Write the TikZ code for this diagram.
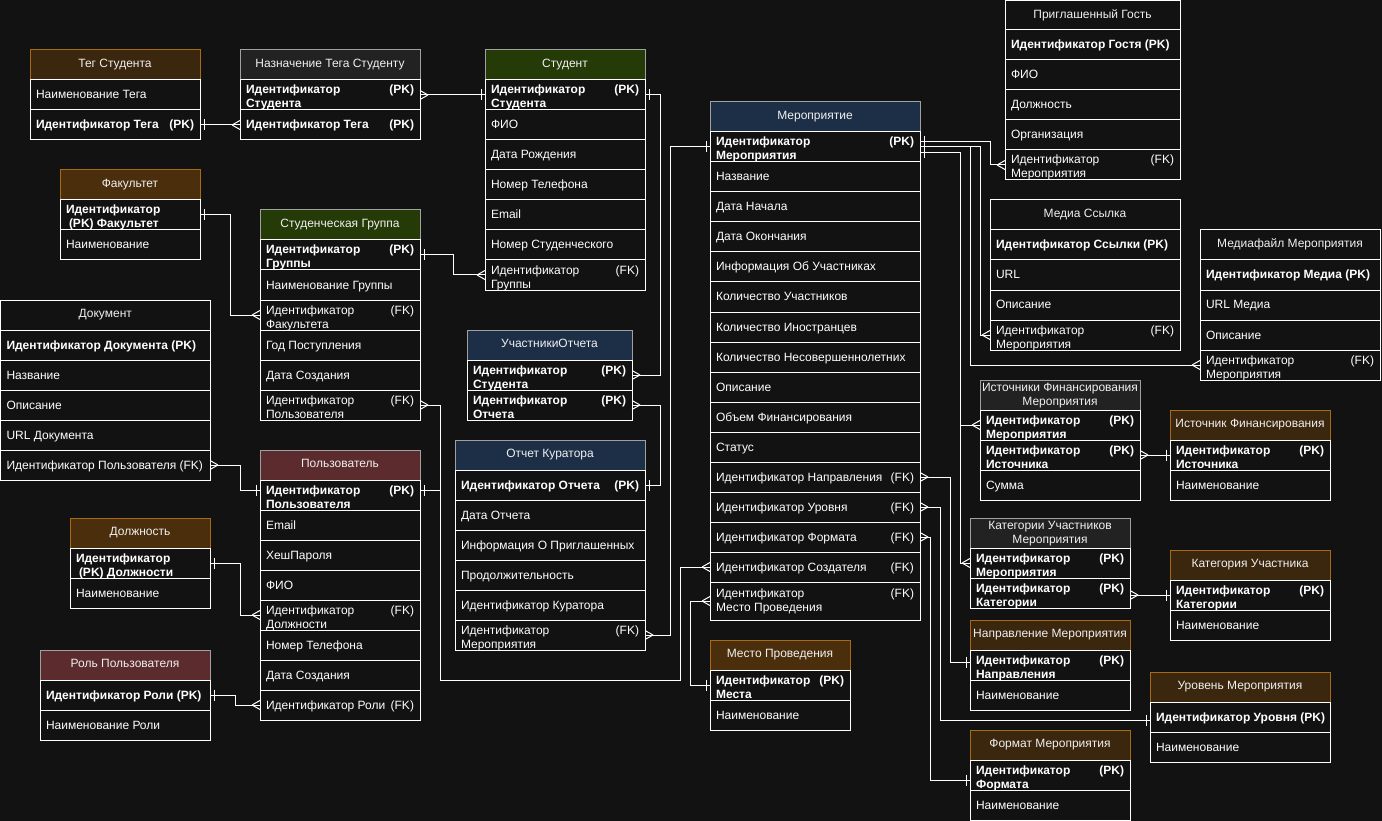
\documentclass[tikz,border=0pt]{standalone}
\usepackage{fontspec}
\setmainfont{Liberation Sans}
\usetikzlibrary{calc}
\definecolor{bgc}{HTML}{121212}
\definecolor{brownA}{HTML}{3B260E}
\definecolor{brownB}{HTML}{4B2E0C}
\definecolor{orng}{HTML}{A86A15}
\definecolor{greenh}{HTML}{243A07}
\definecolor{navyh}{HTML}{1C2F46}
\definecolor{maroonh}{HTML}{5B2B2D}
\definecolor{grayh}{HTML}{222222}
\definecolor{grays}{HTML}{A0A0A0}
\definecolor{headc}{HTML}{F0F0F0}
\tikzset{
  rowbox/.style={draw=white, fill=bgc, line width=1pt, inner sep=0pt, outer sep=0pt, rectangle},
  headbox/.style={line width=1pt, inner sep=0pt, outer sep=0pt, rectangle},
  rowtxt/.style={text=white, font=\fontsize{12}{14}\selectfont, align=left, inner sep=0pt, outer sep=0pt},
  rowtxtb/.style={rowtxt, font=\fontsize{12}{14}\selectfont\bfseries},
  headtxt/.style={text=headc, font=\fontsize{12}{14}\selectfont, align=center, inner sep=0pt},
  conn/.style={draw=white, line width=1pt},
}
\newcommand\erow[8]{%
  \pgfmathsetmacro\tw{#4-12}%
  \node[rowbox, minimum width=#4pt, minimum height=#5pt, anchor=north west] (#1) at (#2,#3) {};%
  \node[#7, anchor=north west] (#1-t) at (#2+6,#3+#6-9.8) {\strut #8};%
}
\newcommand\rowA[5]{\erow{#1}{#2}{#3}{#4}{30}{19}{rowtxt}{#5}}
\newcommand\rowB[5]{\erow{#1}{#2}{#3}{#4}{30}{19}{rowtxtb}{#5}}
\newcommand\rowC[5]{\erow{#1}{#2}{#3}{#4}{30}{14}{rowtxtb}{#5}}
\newcommand\rowD[5]{\erow{#1}{#2}{#3}{#4}{30}{14}{rowtxt}{#5}}
\newcommand\pkl[2]{\makebox[\tw pt][l]{#1\hfill #2}}
\newcommand\ehead[7]{%
  \node[headbox, fill=#5, draw=#6, minimum width=#4pt, minimum height=30pt, anchor=north west] (#1) at (#2,#3) {};%
  \node[headtxt] (#1-t) at (#1.center) {\strut #7};%
}
\newcommand\crow[2]{%
  \draw[conn] ($(#1)+(#2*8,0)$) -- ($(#1)+(0,4.5)$) ($(#1)+(#2*8,0)$) -- ($(#1)+(0,-4.5)$);%
}
\newcommand\onebar[2]{%
  \draw[conn] ($(#1)+(#2*4,-5.5)$) -- ($(#1)+(#2*4,5.5)$);%
}
\begin{document}
\begin{tikzpicture}[x=1pt,y=-1pt]
\useasboundingbox (0,0) rectangle (1382,821);
\fill[bgc] (0,0) rectangle (1382,821);

% Тег Студента
\ehead{ts0}{30}{50}{170}{brownA}{orng}{Тег Студента}
\rowA{ts1}{30}{80}{170}{Наименование Тега}
\rowB{ts2}{30}{110}{170}{\pkl{Идентификатор Тега}{(PK)}}

% Назначение Тега Студенту
\ehead{nz0}{240}{50}{180}{grayh}{grays}{Назначение Тега Студенту}
\rowC{nz1}{240}{80}{180}{\pkl{Идентификатор}{(PK)}\\Студента}
\rowB{nz2}{240}{110}{180}{\pkl{Идентификатор Тега}{(PK)}}

% Студент
\ehead{st0}{485}{50}{160}{greenh}{grays}{Студент}
\rowC{st1}{485}{80}{160}{\pkl{Идентификатор}{(PK)}\\Студента}
\rowA{st2}{485}{110}{160}{ФИО}
\rowA{st3}{485}{140}{160}{Дата Рождения}
\rowA{st4}{485}{170}{160}{Номер Телефона}
\rowA{st5}{485}{200}{160}{Email}
\rowA{st6}{485}{230}{160}{Номер Студенческого}
\rowD{st7}{485}{260}{160}{\pkl{Идентификатор}{(FK)}\\Группы}

% Факультет
\ehead{fk0}{60}{170}{140}{brownB}{orng}{Факультет}
\rowC{fk1}{60}{200}{140}{Идентификатор\\\hspace*{3pt}(PK) Факультет}
\rowA{fk2}{60}{230}{140}{Наименование}

% Студенческая Группа
\ehead{gr0}{260}{210}{160}{greenh}{grays}{Студенческая Группа}
\rowC{gr1}{260}{240}{160}{\pkl{Идентификатор}{(PK)}\\Группы}
\rowA{gr2}{260}{270}{160}{Наименование Группы}
\rowD{gr3}{260}{300}{160}{\pkl{Идентификатор}{(FK)}\\Факультета}
\rowA{gr4}{260}{330}{160}{Год Поступления}
\rowA{gr5}{260}{360}{160}{Дата Создания}
\rowD{gr6}{260}{390}{160}{\pkl{Идентификатор}{(FK)}\\Пользователя}

% Документ
\ehead{dc0}{0.5}{300}{209.5}{bgc}{white}{Документ}
\rowB{dc1}{0.5}{330}{209.5}{Идентификатор Документа (PK)}
\rowA{dc2}{0.5}{360}{209.5}{Название}
\rowA{dc3}{0.5}{390}{209.5}{Описание}
\rowA{dc4}{0.5}{420}{209.5}{URL Документа}
\rowA{dc5}{0.5}{450}{209.5}{Идентификатор Пользователя (FK)}

% Пользователь
\ehead{us0}{260}{450}{160}{maroonh}{grays}{Пользователь}
\rowC{us1}{260}{480}{160}{\pkl{Идентификатор}{(PK)}\\Пользователя}
\rowA{us2}{260}{510}{160}{Email}
\rowA{us3}{260}{540}{160}{ХешПароля}
\rowA{us4}{260}{570}{160}{ФИО}
\rowD{us5}{260}{600}{160}{\pkl{Идентификатор}{(FK)}\\Должности}
\rowA{us6}{260}{630}{160}{Номер Телефона}
\rowA{us7}{260}{660}{160}{Дата Создания}
\rowA{us8}{260}{690}{160}{\pkl{Идентификатор Роли}{(FK)}}

% Должность
\ehead{dl0}{70}{518}{140}{brownB}{orng}{Должность}
\rowC{dl1}{70}{548}{140}{Идентификатор\\\hspace*{3pt}(PK) Должности}
\rowA{dl2}{70}{578}{140}{Наименование}

% Роль Пользователя
\ehead{rl0}{40}{650}{170}{maroonh}{grays}{Роль Пользователя}
\rowB{rl1}{40}{680}{170}{Идентификатор Роли (PK)}
\rowA{rl2}{40}{710}{170}{Наименование Роли}

% УчастникиОтчета
\ehead{uo0}{467}{330}{165}{navyh}{grays}{УчастникиОтчета}
\rowC{uo1}{467}{360}{165}{\pkl{Идентификатор}{(PK)}\\Студента}
\rowC{uo2}{467}{390}{165}{\pkl{Идентификатор}{(PK)}\\Отчета}

% Отчет Куратора
\ehead{ok0}{455}{440}{190}{navyh}{grays}{Отчет Куратора}
\rowB{ok1}{455}{470}{190}{\pkl{Идентификатор Отчета}{(PK)}}
\rowA{ok2}{455}{500}{190}{Дата Отчета}
\rowA{ok3}{455}{530}{190}{Информация О Приглашенных}
\rowA{ok4}{455}{560}{190}{Продолжительность}
\rowA{ok5}{455}{590}{190}{Идентификатор Куратора}
\rowD{ok6}{455}{620}{190}{\pkl{Идентификатор}{(FK)}\\Мероприятия}

% Мероприятие
\ehead{mp0}{710}{102}{210}{navyh}{grays}{Мероприятие}
\rowC{mp1}{710}{132}{210}{\pkl{Идентификатор}{(PK)}\\Мероприятия}
\rowA{mp2}{710}{162}{210}{Название}
\rowA{mp3}{710}{192}{210}{Дата Начала}
\rowA{mp4}{710}{222}{210}{Дата Окончания}
\rowA{mp5}{710}{252}{210}{Информация Об Участниках}
\rowA{mp6}{710}{282}{210}{Количество Участников}
\rowA{mp7}{710}{312}{210}{Количество Иностранцев}
\rowA{mp8}{710}{342}{210}{Количество Несовершеннолетних}
\rowA{mp9}{710}{372}{210}{Описание}
\rowA{mp10}{710}{402}{210}{Объем Финансирования}
\rowA{mp11}{710}{432}{210}{Статус}
\rowA{mp12}{710}{462}{210}{\pkl{Идентификатор Направления}{(FK)}}
\rowA{mp13}{710}{492}{210}{\pkl{Идентификатор Уровня}{(FK)}}
\rowA{mp14}{710}{522}{210}{\pkl{Идентификатор Формата}{(FK)}}
\rowA{mp15}{710}{552}{210}{\pkl{Идентификатор Создателя}{(FK)}}
\erow{mp16}{710}{582}{210}{38}{15}{rowtxt}{\pkl{Идентификатор}{(FK)}\\Место Проведения}

% Место Проведения
\ehead{ml0}{710}{640}{140}{brownB}{orng}{Место Проведения}
\rowC{ml1}{710}{670}{140}{\pkl{Идентификатор}{(PK)}\\Места}
\rowA{ml2}{710}{700}{140}{Наименование}

% Приглашенный Гость
\ehead{gs0}{1005}{0.5}{175}{bgc}{white}{Приглашенный Гость}
\rowB{gs1}{1005}{30}{175}{Идентификатор Гостя (PK)}
\rowA{gs2}{1005}{60}{175}{ФИО}
\rowA{gs3}{1005}{90}{175}{Должность}
\rowA{gs4}{1005}{120}{175}{Организация}
\rowD{gs5}{1005}{150}{175}{\pkl{Идентификатор}{(FK)}\\Мероприятия}

% Медиа Ссылка
\ehead{ms0}{990}{200}{190}{bgc}{white}{Медиа Ссылка}
\rowB{ms1}{990}{230}{190}{Идентификатор Ссылки (PK)}
\rowA{ms2}{990}{260}{190}{URL}
\rowA{ms3}{990}{290}{190}{Описание}
\rowD{ms4}{990}{320}{190}{\pkl{Идентификатор}{(FK)}\\Мероприятия}

% Медиафайл Мероприятия
\ehead{mf0}{1200}{230}{180}{bgc}{white}{Медиафайл Мероприятия}
\rowB{mf1}{1200}{260}{180}{Идентификатор Медиа (PK)}
\rowA{mf2}{1200}{290}{180}{URL Медиа}
\rowA{mf3}{1200}{320}{180}{Описание}
\rowD{mf4}{1200}{350}{180}{\pkl{Идентификатор}{(FK)}\\Мероприятия}

% Источники Финансирования Мероприятия
\ehead{if0}{980}{380}{160}{grayh}{grays}{Источники Финансирования\\Мероприятия}
\rowC{if1}{980}{410}{160}{\pkl{Идентификатор}{(PK)}\\Мероприятия}
\rowC{if2}{980}{440}{160}{\pkl{Идентификатор}{(PK)}\\Источника}
\rowA{if3}{980}{470}{160}{Сумма}

% Источник Финансирования
\ehead{isf0}{1170}{410}{160}{brownA}{orng}{Источник Финансирования}
\rowC{isf1}{1170}{440}{160}{\pkl{Идентификатор}{(PK)}\\Источника}
\rowA{isf2}{1170}{470}{160}{Наименование}

% Категории Участников Мероприятия
\ehead{ku0}{970}{518}{160}{grayh}{grays}{Категории Участников\\Мероприятия}
\rowC{ku1}{970}{548}{160}{\pkl{Идентификатор}{(PK)}\\Мероприятия}
\rowC{ku2}{970}{578}{160}{\pkl{Идентификатор}{(PK)}\\Категории}

% Категория Участника
\ehead{ka0}{1170}{550}{160}{brownA}{orng}{Категория Участника}
\rowC{ka1}{1170}{580}{160}{\pkl{Идентификатор}{(PK)}\\Категории}
\rowA{ka2}{1170}{610}{160}{Наименование}

% Направление Мероприятия
\ehead{nm0}{970}{620}{160}{brownA}{orng}{Направление Мероприятия}
\rowC{nm1}{970}{650}{160}{\pkl{Идентификатор}{(PK)}\\Направления}
\rowA{nm2}{970}{680}{160}{Наименование}

% Уровень Мероприятия
\ehead{um0}{1150}{672}{180}{brownA}{orng}{Уровень Мероприятия}
\rowB{um1}{1150}{702}{180}{Идентификатор Уровня (PK)}
\rowA{um2}{1150}{732}{180}{Наименование}

% Формат Мероприятия
\ehead{fm0}{970}{730}{160}{brownA}{orng}{Формат Мероприятия}
\rowC{fm1}{970}{760}{160}{\pkl{Идентификатор}{(PK)}\\Формата}
\rowA{fm2}{970}{790}{160}{Наименование}

% ---------- connectors ----------
\draw[conn] (ts2.east) -- (nz2.west);
\onebar{ts2.east}{1} \crow{nz2.west}{-1}

\draw[conn] (nz1.east) -- (st1.west);
\crow{nz1.east}{1} \onebar{st1.west}{-1}

\draw[conn] (gr1.east) -- ++(33,0) |- (st7.west);
\onebar{gr1.east}{1} \crow{st7.west}{-1}

\draw[conn] (fk1.east) -- ++(30,0) |- (gr3.west);
\onebar{fk1.east}{1} \crow{gr3.west}{-1}

\draw[conn] (st1.east) -- ++(15,0) |- (uo1.east);
\onebar{st1.east}{1} \crow{uo1.east}{1}

\draw[conn] (ok1.east) -- ++(15,0) |- (uo2.east);
\onebar{ok1.east}{1} \crow{uo2.east}{1}

\draw[conn] (mp1.west) -- ++(-40,0) |- (ok6.east);
\onebar{mp1.west}{-1} \crow{ok6.east}{1}

\coordinate (usR) at ($(us1.east)+(0,-5)$);
\coordinate (usL) at ($(us1.west)+(0,-5)$);
\draw[conn] (usR) -- ++(20,0) |- (gr6.east);
\crow{gr6.east}{1}
\draw[conn] (usR) -- ++(20,0) |- ($(mp15.west)+(-30,113)$) |- (mp15.west);
\onebar{usR}{1} \crow{mp15.west}{-1}

\draw[conn] (dc5.east) -- ++(30,0) |- (usL);
\crow{dc5.east}{1} \onebar{usL}{-1}

\draw[conn] (dl1.east) -- ++(30,0) |- (us5.west);
\onebar{dl1.east}{1} \crow{us5.west}{-1}

\draw[conn] (rl1.east) -- ++(25,0) |- (us8.west);
\onebar{rl1.east}{1} \crow{us8.west}{-1}

\draw[conn] (mp16.west) -- ++(-20,0) |- (ml1.west);
\crow{mp16.west}{-1} \onebar{ml1.west}{-1}

\coordinate (mpA) at ($(mp1.east)+(0,-5)$);
\coordinate (mpB) at (mp1.east);
\coordinate (mpD) at ($(mp1.east)+(0,6)$);
\draw[conn] (mpA) -- ++(70,0) |- (gs5.west);
\draw[conn] (mpB) -- ++(60,0) |- (ms4.west);
\draw[conn] (mpB) -- ++(50,0) |- (mf4.west);
\draw[conn] (mpD) -- ++(40,0) |- (if1.west);
\draw[conn] (mpD) -- ++(40,0) |- (ku1.west);
\onebar{mpA}{1} \onebar{mpB}{1} \onebar{mpD}{1}
\crow{gs5.west}{-1} \crow{ms4.west}{-1} \crow{mf4.west}{-1}
\crow{if1.west}{-1} \crow{ku1.west}{-1}

\coordinate (nmL) at ($(nm1.west)+(0,-3)$);
\draw[conn] (mp12.east) -- ++(30,0) |- (nmL);
\crow{mp12.east}{1} \onebar{nmL}{-1}

\coordinate (umL) at ($(um1.west)+(0,3)$);
\draw[conn] (mp13.east) -- ++(20,0) |- (umL);
\crow{mp13.east}{1} \onebar{umL}{-1}

\coordinate (fmL) at ($(fm1.west)+(0,5)$);
\draw[conn] (mp14.east) -- ++(10,0) |- (fmL);
\crow{mp14.east}{1} \onebar{fmL}{-1}

\draw[conn] (if2.east) -- (isf1.west);
\crow{if2.east}{1} \onebar{isf1.west}{-1}

\coordinate (kuR) at (ka1.west -| ku2.east);
\draw[conn] (kuR) -- (ka1.west);
\crow{kuR}{1} \onebar{ka1.west}{-1}
\end{tikzpicture}
\end{document}
